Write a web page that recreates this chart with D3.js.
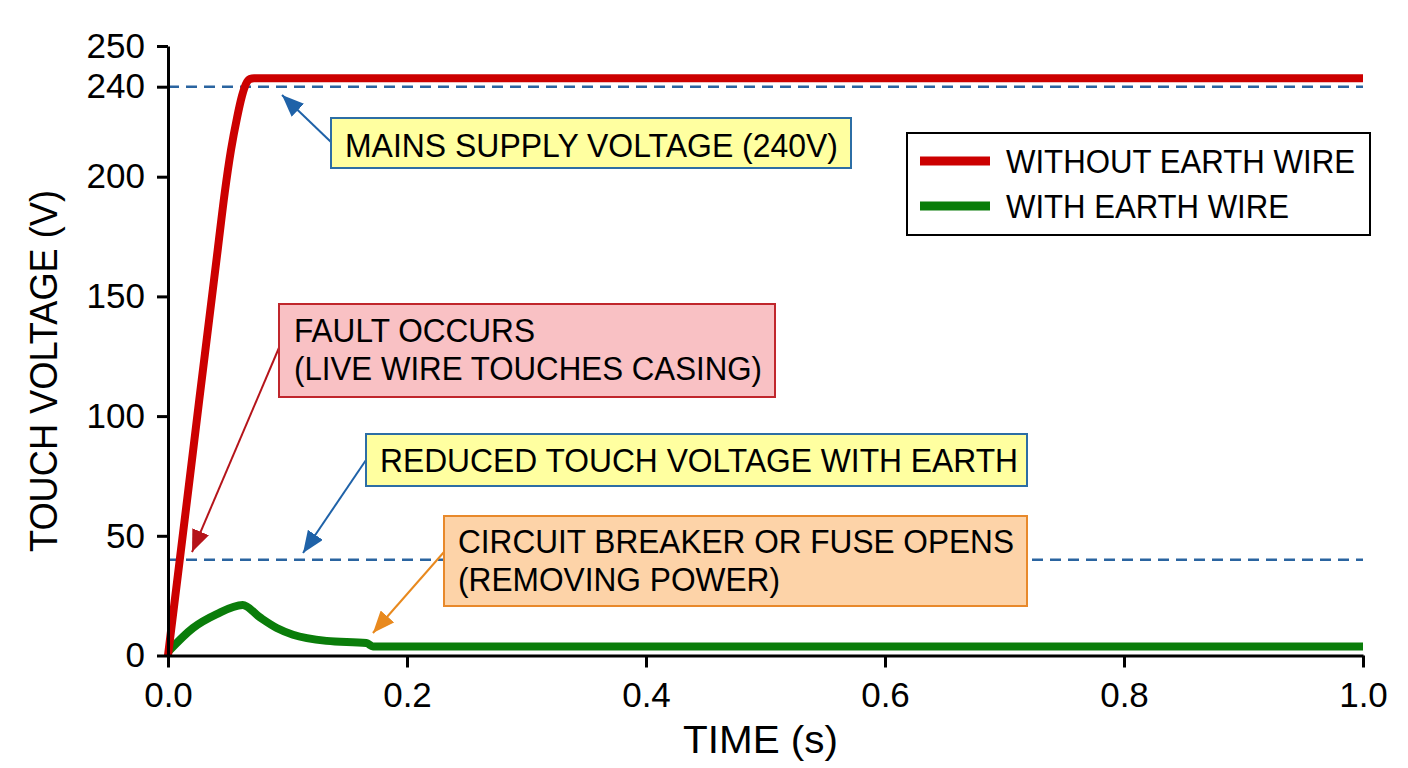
<!DOCTYPE html>
<html>
<head>
<meta charset="utf-8">
<script src="https://cdn.jsdelivr.net/npm/d3@7/dist/d3.min.js"></script>
<style>
  html, body { margin: 0; padding: 0; background: #ffffff; }
  svg { display: block; }
  text { font-family: "Liberation Sans", Arial, sans-serif; fill: #000; }
</style>
</head>
<body>
<svg id="chart" width="1408" height="768"></svg>
<script>
// ---------------- DATA ----------------
const redTime    = [0, 0.00828, 0.01699, 0.02619, 0.03439, 0.04159, 0.04745, 0.05272, 0.05774, 0.06192, 0.06527, 0.06862, 0.07197, 1.0];
const redVolt    = [0, 33.6, 69.1, 106.9, 140.1, 169.4, 193.2, 211.9, 226.1, 235.9, 240.7, 241.9, 242.1, 242.1];
const greenTime  = [0, 0.0209, 0.0408, 0.0625, 0.077, 0.091, 0.1046, 0.1328, 0.166, 0.1715, 1.0];
const greenVolt  = [1.5, 11.5, 17.3, 21.1, 15.9, 11.5, 8.7, 6.1, 5.2, 3.8, 3.8];
const xTickValues = [0, 0.2, 0.4, 0.6, 0.8, 1.0];
const yTickValues = [0, 50, 100, 150, 200, 240, 250];
const refLevels   = [240, 40];
const seriesNames = ["WITHOUT EARTH WIRE", "WITH EARTH WIRE"];
const xTitle = "TIME (s)";
const yTitle = "TOUCH VOLTAGE (V)";
const annotationTexts = [
  ["MAINS SUPPLY VOLTAGE (240V)"],
  ["FAULT OCCURS", "(LIVE WIRE TOUCHES CASING)"],
  ["REDUCED TOUCH VOLTAGE WITH EARTH"],
  ["CIRCUIT BREAKER OR FUSE OPENS", "(REMOVING POWER)"]
];
// arrow targets in data space [time, voltage]
const annotationTargets = [[0.0954, 236.3], [0.0201, 43.2], [0.113, 42.8], [0.1715, 9.4]];

// ---------------- LAYOUT / STYLE ----------------
const plot = { left: 168, right: 1363, top: 46, bottom: 655.5 };
const colors = { red: "#cc0000", green: "#0a7d0a", dash: "#2a64a0" };
const annLayout = [
  { box: [331, 118, 520, 50], tx: 345, base: [157], w: [493], fill: "#ffffa0", stroke: "#2c6ea5", arrow: "#1f62a8", from: [331, 142] },
  { box: [279, 304, 496, 93], tx: 294, base: [342, 380], w: [241, 468], fill: "#f9c1c4", stroke: "#c0262c", arrow: "#b5141a", from: [281, 343] },
  { box: [366, 434, 661, 52], tx: 380, base: [472], w: [638], fill: "#ffffa0", stroke: "#2c6ea5", arrow: "#1f62a8", from: [366, 460] },
  { box: [444, 516, 583, 90], tx: 458, base: [553, 591], w: [556, 322], fill: "#fdd3a8", stroke: "#e8892b", arrow: "#e8891e", from: [444, 552] }
];

const svg = d3.select("#chart");

const x = d3.scaleLinear().domain([0, 1]).range([plot.left, plot.right]);
const y = d3.scaleLinear().domain([0, 200, 240, 250]).range([plot.bottom, 176.7, 86.7, plot.top]);

// reference dashed lines
svg.append("g").selectAll("line").data(refLevels).join("line")
  .attr("x1", x(0)).attr("x2", x(1))
  .attr("y1", d => y(d)).attr("y2", d => y(d))
  .attr("stroke", colors.dash).attr("stroke-width", 2.5)
  .attr("stroke-dasharray", "11,7");

// series lines
const line = d3.line().x(d => x(d[0])).y(d => y(d[1])).curve(d3.curveMonotoneX);
const redData = redTime.map((t, i) => [t, redVolt[i]]);
const greenData = greenTime.map((t, i) => [t, greenVolt[i]]);

svg.append("path").datum(greenData).attr("d", line)
  .attr("fill", "none").attr("stroke", colors.green).attr("stroke-width", 8)
  .attr("stroke-linejoin", "round").attr("stroke-linecap", "butt");
svg.append("path").datum(redData).attr("d", line)
  .attr("fill", "none").attr("stroke", colors.red).attr("stroke-width", 8)
  .attr("stroke-linejoin", "round").attr("stroke-linecap", "butt");

// axes
const xAxis = d3.axisBottom(x).tickValues(xTickValues).tickFormat(d3.format(".1f"))
  .tickSize(12).tickSizeOuter(0).tickPadding(15);
const yAxis = d3.axisLeft(y).tickValues(yTickValues).tickFormat(d3.format("d"))
  .tickSize(11).tickSizeOuter(0).tickPadding(12);

const gx = svg.append("g").attr("transform", `translate(0,${plot.bottom})`).call(xAxis);
const gy = svg.append("g").attr("transform", `translate(${plot.left},0)`).call(yAxis);
[gx, gy].forEach(g => {
  g.select(".domain").attr("stroke", "#000").attr("stroke-width", 3);
  g.selectAll(".tick line").attr("stroke", "#000").attr("stroke-width", 3);
  g.selectAll(".tick text").attr("font-size", 35).attr("fill", "#000")
    .attr("font-family", '"Liberation Sans", Arial, sans-serif');
});

// axis titles
svg.append("text").attr("x", 760.5).attr("y", 753)
  .attr("text-anchor", "middle").attr("font-size", 38)
  .attr("textLength", 155).attr("lengthAdjust", "spacingAndGlyphs")
  .text(xTitle);
svg.append("text").attr("transform", "translate(57,371) rotate(-90)")
  .attr("text-anchor", "middle").attr("font-size", 38)
  .attr("textLength", 362).attr("lengthAdjust", "spacingAndGlyphs")
  .text(yTitle);

// legend
const leg = svg.append("g");
leg.append("rect").attr("x", 907).attr("y", 133).attr("width", 463).attr("height", 102)
  .attr("fill", "#fff").attr("stroke", "#000").attr("stroke-width", 2);
const legColors = [colors.red, colors.green];
const legY = [161, 206];
const legW = [349, 283];
seriesNames.forEach((name, i) => {
  leg.append("line").attr("x1", 920).attr("x2", 990).attr("y1", legY[i]).attr("y2", legY[i])
    .attr("stroke", legColors[i]).attr("stroke-width", 9);
  leg.append("text").attr("x", 1006).attr("y", legY[i] + 12)
    .attr("font-size", 33).attr("textLength", legW[i]).attr("lengthAdjust", "spacingAndGlyphs")
    .text(name);
});

// arrow markers
const defs = svg.append("defs");
annLayout.forEach((a, i) => {
  defs.append("marker").attr("id", "arr" + i)
    .attr("viewBox", "0 -9 22 18").attr("refX", 22).attr("refY", 0)
    .attr("markerWidth", 22).attr("markerHeight", 18)
    .attr("markerUnits", "userSpaceOnUse").attr("orient", "auto")
    .append("path").attr("d", "M0,-9L22,0L0,9Z").attr("fill", a.arrow);
});

// annotations
annotationTexts.forEach((lines, i) => {
  const a = annLayout[i];
  const tgt = annotationTargets[i];
  const g = svg.append("g");
  g.append("line").attr("x1", a.from[0]).attr("y1", a.from[1])
    .attr("x2", x(tgt[0])).attr("y2", y(tgt[1]))
    .attr("stroke", a.arrow).attr("stroke-width", 2)
    .attr("marker-end", `url(#arr${i})`);
  g.append("rect").attr("x", a.box[0]).attr("y", a.box[1])
    .attr("width", a.box[2]).attr("height", a.box[3])
    .attr("fill", a.fill).attr("stroke", a.stroke).attr("stroke-width", 2);
  lines.forEach((t, j) => {
    g.append("text").attr("x", a.tx).attr("y", a.base[j])
      .attr("font-size", 33).attr("textLength", a.w[j]).attr("lengthAdjust", "spacingAndGlyphs")
      .text(t);
  });
});
</script>
</body>
</html>
